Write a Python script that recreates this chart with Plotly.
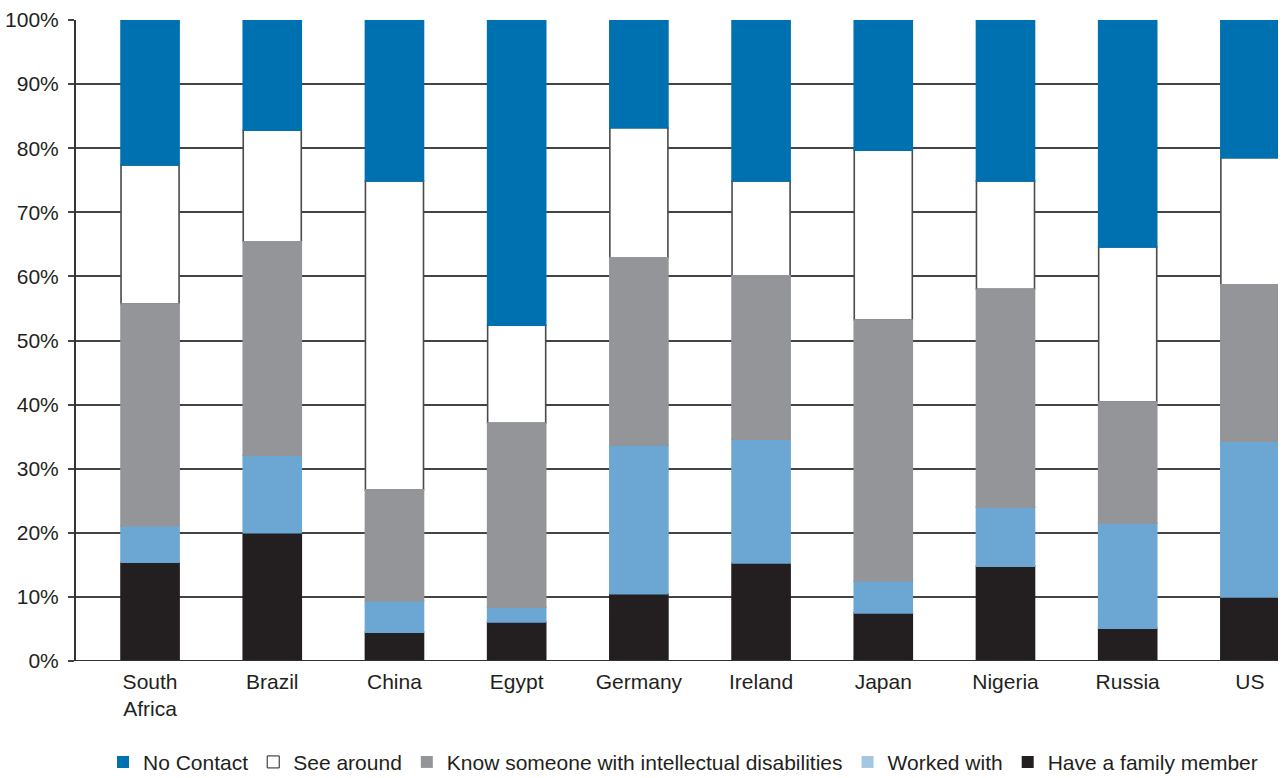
import plotly.graph_objects as go

countries = ["South<br>Africa", "Brazil", "China", "Egypt", "Germany",
             "Ireland", "Japan", "Nigeria", "Russia", "US"]

# Share of respondents (%) by type of contact, listed from the bottom of each bar up
family_member = [15.4, 20.0, 4.5, 6.1, 10.5, 15.3, 7.5, 14.8, 5.1, 10.0]
worked_with = [5.7, 12.1, 4.9, 2.3, 23.2, 19.3, 5.0, 9.2, 16.4, 24.3]
know_someone = [34.6, 33.3, 17.3, 28.7, 29.2, 25.5, 40.7, 34.0, 18.9, 24.4]
see_around = [21.7, 17.4, 48.2, 15.3, 20.3, 14.8, 26.5, 16.9, 24.2, 19.8]
no_contact = [22.6, 17.2, 25.1, 47.6, 16.8, 25.1, 20.3, 25.1, 35.4, 21.5]

# (name, values, bar colour, legend colour)
series = [
    ("Have a family member", family_member, "#231F20", "#231F20"),
    ("Worked with", worked_with, "#6CA7D3", "#A3C6E3"),
    ("Know someone with intellectual disabilities", know_someone, "#939598", "#939598"),
    ("See around", see_around, "#FFFFFF", "#FFFFFF"),
    ("No Contact", no_contact, "#0071B0", "#0071B0"),
]

BAR_W = 0.475
OUTLINE = "#4A4A4A"

# cumulative bases so the segments can be drawn in any order
bases = []
running = [0.0] * len(countries)
for _, vals, _, _ in series:
    bases.append(list(running))
    running = [r + v for r, v in zip(running, vals)]

fig = go.Figure()

# white "See around" segments first, with an outline; the neighbouring
# segments are drawn over them afterwards and hide the horizontal edges
draw_order = [3, 0, 1, 2, 4]
for i in draw_order:
    name, vals, color, _ = series[i]
    outlined = color == "#FFFFFF"
    fig.add_trace(go.Bar(
        x=countries, y=vals, base=bases[i], name=name, showlegend=False,
        marker=dict(color=color,
                    line=dict(color=OUTLINE if outlined else color, width=1.6)),
        width=BAR_W,
    ))

# legend entries
for name, _, _, lcolor in reversed(series):
    fig.add_trace(go.Bar(
        x=[None], y=[None], name=name,
        marker=dict(color=lcolor,
                    line=dict(color="#231F20" if lcolor == "#FFFFFF" else lcolor,
                              width=1 if lcolor == "#FFFFFF" else 0)),
    ))

font = dict(family="Liberation Sans, Arial, Helvetica, sans-serif", size=21, color="#231F20")

fig.update_layout(
    barmode="overlay",
    width=1282, height=778,
    margin=dict(l=76, r=4, t=20, b=117, autoexpand=False),
    paper_bgcolor="white", plot_bgcolor="white",
    font=font,
    showlegend=True,
    legend=dict(orientation="h", x=0.505, xanchor="center", y=-0.158, yanchor="middle",
                traceorder="normal", font=font, itemwidth=30),
    xaxis=dict(showgrid=False, showline=False, ticks="", tickfont=font,
               range=[-0.606, 9.23], ticklabelstandoff=6),
    yaxis=dict(range=[0, 100], dtick=10, ticksuffix="%", showgrid=True,
               gridcolor="#444444", gridwidth=1.5, zeroline=False,
               showline=True, linecolor="#333333", linewidth=2,
               ticks="outside", ticklen=6, tickcolor="#444444", tickwidth=1.5,
               tickfont=font, ticklabelstandoff=5),
)

# baseline along 0%
fig.add_shape(type="line", xref="paper", yref="y", x0=0, x1=1, y0=0, y1=0,
              line=dict(color="#333333", width=2))

fig.write_html("out.html")
